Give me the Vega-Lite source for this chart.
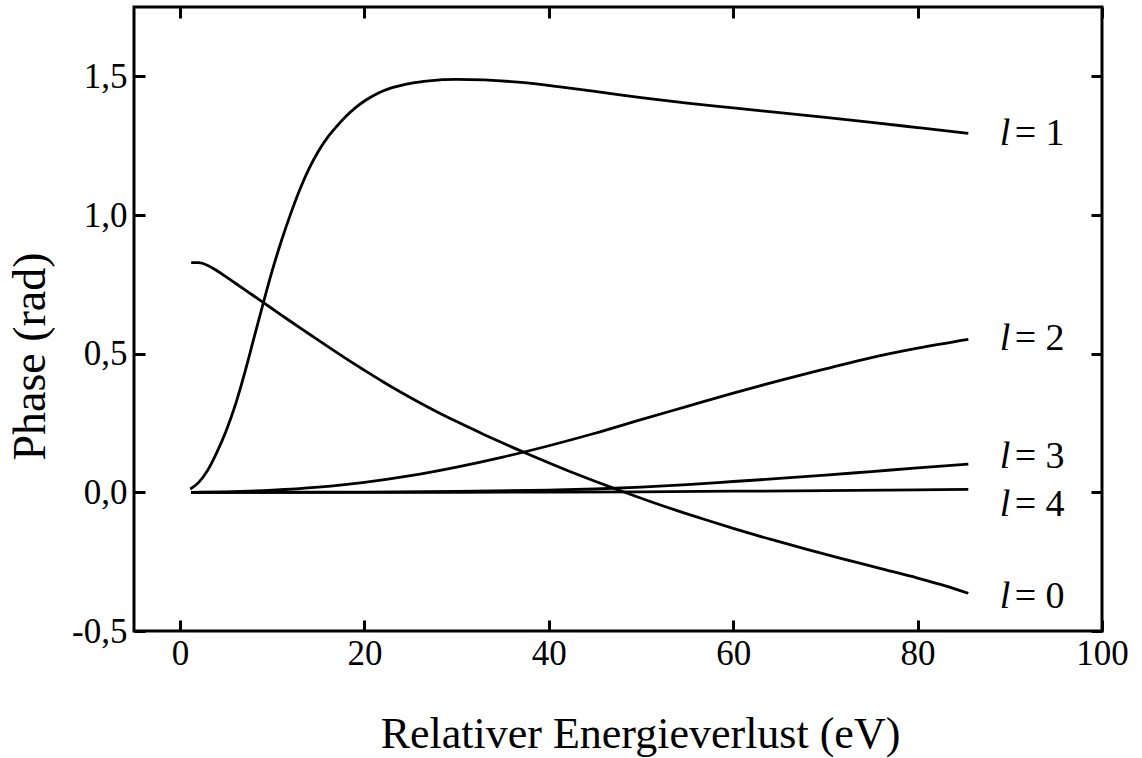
{
  "$schema": "https://vega.github.io/schema/vega-lite/v6.json",
  "autosize": {"type": "none"},
  "width": 968,
  "height": 624,
  "padding": {"left": 134, "top": 7, "right": 40, "bottom": 127},
  "background": "white",
  "config": {
    "view": {"stroke": "black", "strokeWidth": 3},
    "axis": {
      "grid": false,
      "domain": false,
      "labelFont": "Liberation Serif",
      "labelFontSize": 35,
      "labelColor": "black",
      "labelFlush": false,
      "labelOverlap": false,
      "tickColor": "black",
      "tickWidth": 3,
      "tickSize": -11,
      "titleFont": "Liberation Serif",
      "titleFontWeight": "normal",
      "titleColor": "black"
    }
  },
  "datasets": {
    "curves": [
      {"l": "1", "E": 1.1, "phase": 0.012},
      {"l": "1", "E": 2, "phase": 0.035},
      {"l": "1", "E": 3, "phase": 0.08},
      {"l": "1", "E": 4, "phase": 0.145},
      {"l": "1", "E": 5, "phase": 0.222},
      {"l": "1", "E": 6, "phase": 0.316},
      {"l": "1", "E": 7, "phase": 0.43},
      {"l": "1", "E": 8, "phase": 0.555},
      {"l": "1", "E": 9, "phase": 0.68},
      {"l": "1", "E": 10, "phase": 0.8},
      {"l": "1", "E": 11, "phase": 0.908},
      {"l": "1", "E": 12, "phase": 1.005},
      {"l": "1", "E": 13, "phase": 1.093},
      {"l": "1", "E": 14, "phase": 1.168},
      {"l": "1", "E": 15, "phase": 1.23},
      {"l": "1", "E": 16, "phase": 1.28},
      {"l": "1", "E": 17, "phase": 1.32},
      {"l": "1", "E": 18, "phase": 1.356},
      {"l": "1", "E": 19, "phase": 1.386},
      {"l": "1", "E": 20, "phase": 1.411},
      {"l": "1", "E": 21, "phase": 1.431},
      {"l": "1", "E": 22, "phase": 1.447},
      {"l": "1", "E": 23, "phase": 1.459},
      {"l": "1", "E": 25, "phase": 1.475},
      {"l": "1", "E": 27, "phase": 1.484},
      {"l": "1", "E": 30, "phase": 1.489},
      {"l": "1", "E": 33, "phase": 1.487},
      {"l": "1", "E": 37, "phase": 1.478},
      {"l": "1", "E": 41, "phase": 1.463},
      {"l": "1", "E": 45, "phase": 1.446},
      {"l": "1", "E": 50, "phase": 1.423},
      {"l": "1", "E": 55, "phase": 1.403},
      {"l": "1", "E": 60, "phase": 1.386},
      {"l": "1", "E": 65, "phase": 1.369},
      {"l": "1", "E": 70, "phase": 1.352},
      {"l": "1", "E": 75, "phase": 1.334},
      {"l": "1", "E": 80, "phase": 1.315},
      {"l": "1", "E": 85.5, "phase": 1.294},

      {"l": "0", "E": 1.2, "phase": 0.828},
      {"l": "0", "E": 2, "phase": 0.828},
      {"l": "0", "E": 3, "phase": 0.818},
      {"l": "0", "E": 4, "phase": 0.799},
      {"l": "0", "E": 5, "phase": 0.777},
      {"l": "0", "E": 6, "phase": 0.754},
      {"l": "0", "E": 7, "phase": 0.731},
      {"l": "0", "E": 8, "phase": 0.708},
      {"l": "0", "E": 9, "phase": 0.685},
      {"l": "0", "E": 10, "phase": 0.662},
      {"l": "0", "E": 12, "phase": 0.616},
      {"l": "0", "E": 14, "phase": 0.571},
      {"l": "0", "E": 16, "phase": 0.526},
      {"l": "0", "E": 18, "phase": 0.482},
      {"l": "0", "E": 20, "phase": 0.44},
      {"l": "0", "E": 22, "phase": 0.399},
      {"l": "0", "E": 24, "phase": 0.36},
      {"l": "0", "E": 26, "phase": 0.323},
      {"l": "0", "E": 28, "phase": 0.288},
      {"l": "0", "E": 30, "phase": 0.255},
      {"l": "0", "E": 33, "phase": 0.208},
      {"l": "0", "E": 36, "phase": 0.163},
      {"l": "0", "E": 39, "phase": 0.12},
      {"l": "0", "E": 42, "phase": 0.079},
      {"l": "0", "E": 45, "phase": 0.04},
      {"l": "0", "E": 48, "phase": 0.003},
      {"l": "0", "E": 51, "phase": -0.033},
      {"l": "0", "E": 54, "phase": -0.067},
      {"l": "0", "E": 57, "phase": -0.099},
      {"l": "0", "E": 60, "phase": -0.13},
      {"l": "0", "E": 64, "phase": -0.169},
      {"l": "0", "E": 68, "phase": -0.206},
      {"l": "0", "E": 72, "phase": -0.241},
      {"l": "0", "E": 76, "phase": -0.275},
      {"l": "0", "E": 80, "phase": -0.309},
      {"l": "0", "E": 83, "phase": -0.337},
      {"l": "0", "E": 85.5, "phase": -0.364},

      {"l": "2", "E": 1.2, "phase": 0.0},
      {"l": "2", "E": 5, "phase": 0.002},
      {"l": "2", "E": 10, "phase": 0.008},
      {"l": "2", "E": 15, "phase": 0.019},
      {"l": "2", "E": 20, "phase": 0.036},
      {"l": "2", "E": 25, "phase": 0.06},
      {"l": "2", "E": 30, "phase": 0.091},
      {"l": "2", "E": 35, "phase": 0.127},
      {"l": "2", "E": 40, "phase": 0.168},
      {"l": "2", "E": 45, "phase": 0.213},
      {"l": "2", "E": 50, "phase": 0.262},
      {"l": "2", "E": 55, "phase": 0.31},
      {"l": "2", "E": 60, "phase": 0.358},
      {"l": "2", "E": 65, "phase": 0.403},
      {"l": "2", "E": 70, "phase": 0.445},
      {"l": "2", "E": 75, "phase": 0.486},
      {"l": "2", "E": 80, "phase": 0.52},
      {"l": "2", "E": 85.5, "phase": 0.552},

      {"l": "3", "E": 1.2, "phase": 0.0},
      {"l": "3", "E": 20, "phase": 0.001},
      {"l": "3", "E": 30, "phase": 0.003},
      {"l": "3", "E": 40, "phase": 0.008},
      {"l": "3", "E": 45, "phase": 0.012},
      {"l": "3", "E": 50, "phase": 0.019},
      {"l": "3", "E": 55, "phase": 0.028},
      {"l": "3", "E": 60, "phase": 0.039},
      {"l": "3", "E": 65, "phase": 0.05},
      {"l": "3", "E": 70, "phase": 0.062},
      {"l": "3", "E": 75, "phase": 0.075},
      {"l": "3", "E": 80, "phase": 0.088},
      {"l": "3", "E": 85.5, "phase": 0.102},

      {"l": "4", "E": 1.2, "phase": 0.0},
      {"l": "4", "E": 30, "phase": 0.0},
      {"l": "4", "E": 40, "phase": 0.001},
      {"l": "4", "E": 50, "phase": 0.002},
      {"l": "4", "E": 60, "phase": 0.004},
      {"l": "4", "E": 70, "phase": 0.006},
      {"l": "4", "E": 80, "phase": 0.009},
      {"l": "4", "E": 85.5, "phase": 0.011}
    ],
    "labels": [
      {"l": "1", "E": 88.9, "phase": 1.292, "rest": "= 1"},
      {"l": "2", "E": 88.9, "phase": 0.553, "rest": "= 2"},
      {"l": "3", "E": 88.9, "phase": 0.127, "rest": "= 3"},
      {"l": "4", "E": 88.9, "phase": -0.046, "rest": "= 4"},
      {"l": "0", "E": 88.9, "phase": -0.378, "rest": "= 0"}
    ]
  },
  "resolve": {"axis": {"x": "independent", "y": "independent"}},
  "layer": [
    {
      "data": {"name": "curves"},
      "mark": {"type": "line", "color": "black", "strokeWidth": 2.8, "interpolate": "monotone"},
      "encoding": {
        "x": {
          "field": "E", "type": "quantitative",
          "scale": {"domain": [-5, 100], "nice": false, "zero": false},
          "axis": {
            "orient": "bottom",
            "values": [0, 20, 40, 60, 80, 100],
            "labelPadding": 16.5,
            "title": "Relativer Energieverlust (eV)",
            "titleFontSize": 44,
            "titleX": 506,
            "titleY": 116,
            "titleBaseline": "alphabetic",
            "titleAnchor": null,
            "titleAlign": "center"
          }
        },
        "y": {
          "field": "phase", "type": "quantitative",
          "scale": {"domain": [-0.5, 1.75], "nice": false, "zero": false},
          "axis": {
            "orient": "left",
            "values": [-0.5, 0, 0.5, 1, 1.5],
            "labelPadding": 18,
            "labelExpr": "(datum.value < 0 ? '-' : '') + replace(format(abs(datum.value), '.1f'), '.', ',')",
            "title": "Phase (rad)",
            "titleFontSize": 46,
            "titleAngle": -90,
            "titleX": -90,
            "titleY": 349,
            "titleBaseline": "alphabetic",
            "titleAlign": "center",
            "titleAnchor": null
          }
        },
        "detail": {"field": "l", "type": "nominal"}
      }
    },
    {
      "data": {"name": "labels"},
      "mark": {"type": "text", "font": "Liberation Serif", "fontStyle": "italic", "fontSize": 38, "align": "left", "baseline": "middle", "color": "black"},
      "encoding": {
        "x": {
          "field": "E", "type": "quantitative",
          "axis": {"orient": "top", "values": [0, 20, 40, 60, 80, 100], "labels": false, "title": null}
        },
        "y": {
          "field": "phase", "type": "quantitative",
          "axis": {"orient": "right", "values": [-0.5, 0, 0.5, 1, 1.5], "labels": false, "title": null}
        },
        "text": {"value": "l"}
      }
    },
    {
      "data": {"name": "labels"},
      "mark": {"type": "text", "font": "Liberation Serif", "fontSize": 38, "align": "left", "baseline": "middle", "color": "black", "dx": 15},
      "encoding": {
        "x": {"field": "E", "type": "quantitative", "axis": null},
        "y": {"field": "phase", "type": "quantitative", "axis": null},
        "text": {"field": "rest"}
      }
    }
  ]
}
